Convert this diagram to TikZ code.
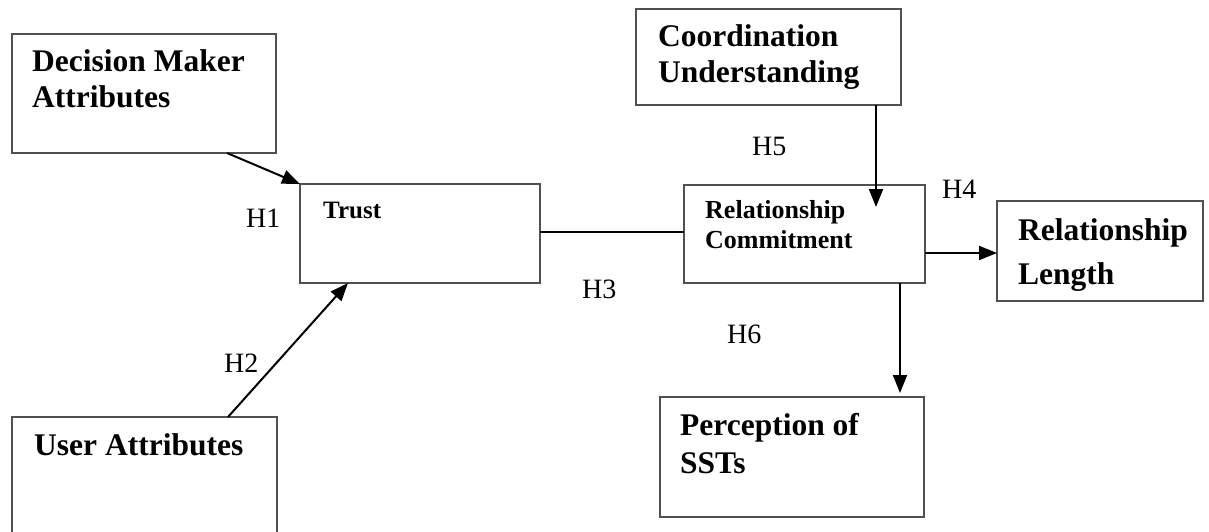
\documentclass[tikz,border=0pt]{standalone}
\usepackage{fontspec}
\setmainfont{Liberation Serif}
\usetikzlibrary{arrows.meta}
\definecolor{boxgray}{HTML}{505050}
\tikzset{
  box/.style={draw=boxgray, line width=1.5pt, inner sep=0pt, outer sep=0pt, anchor=north west},
  bigtxt/.style={font=\fontsize{31.5}{36}\selectfont\bfseries, anchor=base west, inner sep=0pt},
  smalltxt/.style={font=\fontsize{26}{30}\selectfont\bfseries, anchor=base west, inner sep=0pt},
  hyp/.style={font=\fontsize{28}{32}\selectfont, anchor=base west, inner sep=0pt},
  conn/.style={line width=2pt, black},
  arr/.style={conn, -{Triangle[length=18pt,width=14pt]}}
}
\begin{document}
\begin{tikzpicture}[x=1pt,y=-1pt]
\useasboundingbox (0,0) rectangle (1209,532);
% boxes
\node[box, minimum width=264pt, minimum height=119pt] (dma) at (12,34) {};
\node[box, minimum width=240pt, minimum height=99pt] (trust) at (300,184) {};
\node[box, minimum width=265pt, minimum height=130pt] (user) at (12,417) {};
\node[box, minimum width=265pt, minimum height=96pt] (coord) at (636,9) {};
\node[box, minimum width=241pt, minimum height=98pt] (rc) at (684,185) {};
\node[box, minimum width=206pt, minimum height=100pt] (rl) at (997,201) {};
\node[box, minimum width=264pt, minimum height=120pt] (perc) at (660,397) {};
% texts
\node[bigtxt] (dma1) at (32,72) {Decision Maker};
\node[bigtxt] (dma2) at (32,108) {Attributes};
\node[smalltxt, font=\fontsize{25}{30}\selectfont\bfseries] (trust1) at (323,218) {Trust};
\node[bigtxt] (user1) at (34,455) {User Attributes};
\node[bigtxt] (coord1) at (658,47) {Coordination};
\node[bigtxt] (coord2) at (658,83) {Understanding};
\node[smalltxt] (rc1) at (705,218) {Relationship};
\node[smalltxt] (rc2) at (705,248) {Commitment};
\node[bigtxt] (rl1) at (1018,240) {Relationship};
\node[bigtxt] (rl2) at (1018,284) {Length};
\node[bigtxt] (perc1) at (680,435) {Perception of};
\node[bigtxt] (perc2) at (680,473) {SSTs};
% hypothesis labels
\node[hyp] (h1) at (246,227) {H1};
\node[hyp] (h2) at (224,372) {H2};
\node[hyp] (h3) at (582,298) {H3};
\node[hyp] (h4) at (942,198) {H4};
\node[hyp] (h5) at (752,155) {H5};
\node[hyp] (h6) at (727,343) {H6};
% connectors
\draw[arr] ([xshift=215pt]dma.south west) -- (trust.north west);
\draw[arr] ([xshift=216pt]user.north west) -- ([xshift=48pt]trust.south west);
\draw[conn] ([yshift=-48pt]trust.north east) -- ([yshift=-47pt]rc.north west);
\draw[arr] ([xshift=240pt]coord.south west) -- ([xshift=192pt,yshift=-22pt]rc.north west);
\draw[arr] ([yshift=-68pt]rc.north east) -- ([yshift=-52pt]rl.north west);
\draw[arr] ([xshift=216pt]rc.south west) -- ([xshift=240pt,yshift=4pt]perc.north west);
\end{tikzpicture}
\end{document}
